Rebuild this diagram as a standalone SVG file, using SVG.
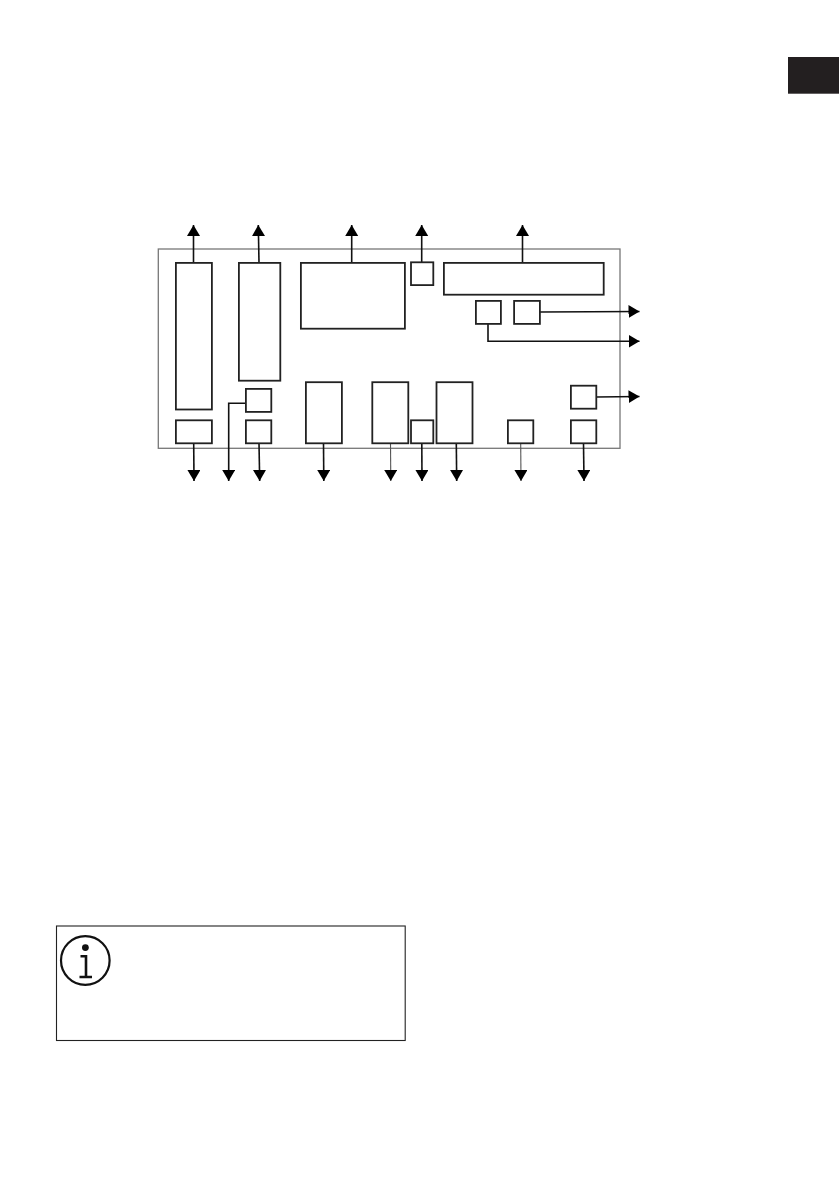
<svg xmlns="http://www.w3.org/2000/svg" width="839" height="1191" viewBox="0 0 839 1191">
<style>
.n{fill:#fff;stroke:#222;stroke-width:1.8}
.c{fill:none;stroke:#111;stroke-width:1.6}
.thin{stroke:#555;stroke-width:1.1}
</style>
<defs>
<marker id="a" markerUnits="userSpaceOnUse" markerWidth="12" markerHeight="14" refX="11" refY="6.5" orient="auto"><path d="M0 0L11 6.5L0 13Z" fill="#000"/></marker>
</defs>
<rect width="839" height="1191" fill="#fff"/>
<rect id="tab" x="788" y="57" width="51" height="36.7" fill="#231f20"/>
<rect id="frame" x="158.3" y="249" width="461.7" height="199.3" fill="#fff" stroke="#777" stroke-width="1.3"/>
<g id="connectors">
<path class="c" d="M193.5 262.7V225" marker-end="url(#a)"/>
<path class="c" d="M259 262.7L258.3 225" marker-end="url(#a)"/>
<path class="c" d="M351.7 262.7V225" marker-end="url(#a)"/>
<path class="c" d="M421.7 262V225" marker-end="url(#a)"/>
<path class="c" d="M522.5 262.7V225" marker-end="url(#a)"/>
<path class="c" d="M540 312L639.5 311.5" marker-end="url(#a)"/>
<path class="c" d="M488 324V341.3H639.5" marker-end="url(#a)"/>
<path class="c" d="M596.3 397L639.5 396.5" marker-end="url(#a)"/>
<path class="c" d="M193.7 443.3L194 481" marker-end="url(#a)"/>
<path class="c" d="M245.7 403.3H228.7V481" marker-end="url(#a)"/>
<path class="c" d="M259 443.3L259.7 481" marker-end="url(#a)"/>
<path class="c" d="M323.5 443.3L323.8 481" marker-end="url(#a)"/>
<path class="c thin" d="M390.5 443.3L390.8 481" marker-end="url(#a)"/>
<path class="c" d="M421.8 443.3L422 481" marker-end="url(#a)"/>
<path class="c" d="M456.3 443.3L456.7 481" marker-end="url(#a)"/>
<path class="c thin" d="M520.7 443.3L521 481" marker-end="url(#a)"/>
<path class="c" d="M583.5 443.3L584 481" marker-end="url(#a)"/>
</g>
<g id="n1"><rect class="n" x="175.9" y="262.9" width="36" height="146.6"/></g>
<g id="n2"><rect class="n" x="238.9" y="262.9" width="41.4" height="117.8"/></g>
<g id="n3"><rect class="n" x="300.9" y="262.9" width="104" height="65.8"/></g>
<g id="n4"><rect class="n" x="411" y="262.3" width="22.3" height="22.8"/></g>
<g id="n5"><rect class="n" x="443.9" y="262.9" width="159.8" height="31.8"/></g>
<g id="n6"><rect class="n" x="475.9" y="300.9" width="25" height="23"/></g>
<g id="n7"><rect class="n" x="514.1" y="300.9" width="25.8" height="23"/></g>
<g id="n8"><rect class="n" x="245.9" y="388.9" width="25.4" height="23"/></g>
<g id="n9"><rect class="n" x="305.9" y="382.2" width="36" height="61.1"/></g>
<g id="n10"><rect class="n" x="372.3" y="382.2" width="36" height="61.1"/></g>
<g id="n11"><rect class="n" x="436.5" y="382.2" width="36" height="61.1"/></g>
<g id="n12"><rect class="n" x="570.9" y="385.7" width="25.4" height="23"/></g>
<g id="n13"><rect class="n" x="175.9" y="420.3" width="36" height="23"/></g>
<g id="n14"><rect class="n" x="245.9" y="420.3" width="25.4" height="23"/></g>
<g id="n15"><rect class="n" x="411" y="420.3" width="22.3" height="23"/></g>
<g id="n16"><rect class="n" x="507.9" y="420.3" width="25.4" height="23"/></g>
<g id="n17"><rect class="n" x="570.9" y="420.3" width="25.4" height="23"/></g>
<g id="info">
<rect x="56.5" y="926" width="348.7" height="114.5" fill="#fff" stroke="#222" stroke-width="1.1"/>
<circle cx="85.3" cy="960.5" r="24.3" fill="none" stroke="#111" stroke-width="2.2"/>
<circle cx="85.4" cy="947.6" r="3.4" fill="#111"/>
<path d="M80.5 956.3H86V977M79.5 977H92" fill="none" stroke="#111" stroke-width="2.6"/>
</g>
</svg>
